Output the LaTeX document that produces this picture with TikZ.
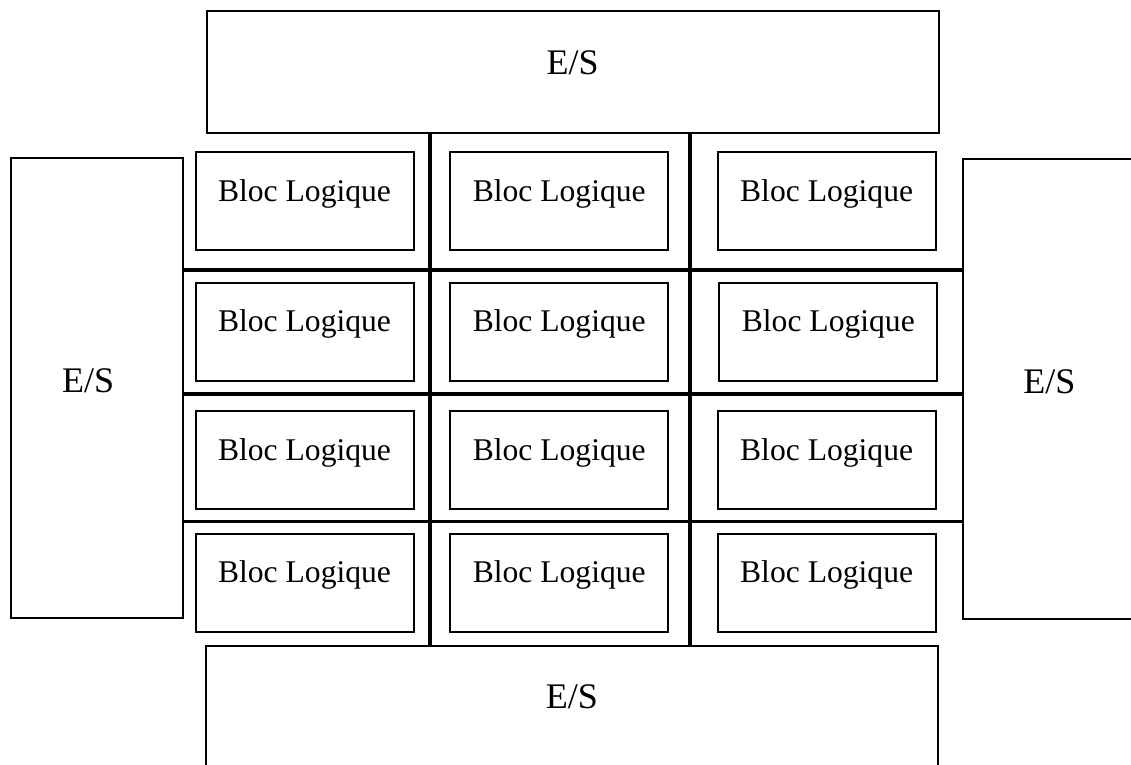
\documentclass[tikz,border=0pt]{standalone}
\usepackage{fontspec}
\setmainfont{Liberation Serif}
\begin{document}
\begin{tikzpicture}[x=1pt,y=-1pt,
  frame/.style={draw, line width=2pt, inner sep=0pt, outer sep=0pt,
                text height=0pt, text depth=0pt},
  esbox/.style={frame, font=\fontsize{36}{40}\selectfont},
  blocbox/.style={frame, minimum width=218pt, minimum height=98pt,
                  font=\fontsize{31.6}{36}\selectfont},
  bus/.style={line width=3.2pt}]
\useasboundingbox (0,0) rectangle (1131,764);

% I/O banks around the array
\node[esbox, minimum width=731.8pt, minimum height=122.3pt, text height=4pt]
  (esT) at (572.6,72.2) {E/S};
\node[esbox, minimum width=731.5pt, minimum height=122.3pt, text height=4pt]
  (esB) at (571.8,706.9) {E/S};
\node[esbox, minimum width=172.3pt, minimum height=460.6pt, text height=8pt]
  (esL) at (97.2,388) {E/S\hspace*{18pt}};
\node[esbox, minimum width=172pt, minimum height=460.3pt, text height=8pt]
  (esR) at (1049.3,389.2) {E/S};

% routing channels between the logic blocks
\coordinate (v1) at (430,0);
\coordinate (v2) at (690,0);
\coordinate (h1) at (0,270);
\coordinate (h2) at (0,394);
\coordinate (h3) at (0,521.5);
\draw[bus] (v1 |- esT.south) -- (v1 |- esB.north);
\draw[bus] (v2 |- esT.south) -- (v2 |- esB.north);
\draw[bus] (h1 -| esL.east) -- (h1 -| esR.west);
\draw[bus] (h2 -| esL.east) -- (h2 -| esR.west);
\draw[bus] (h3 -| esL.east) -- (h3 -| esR.west);

% logic blocks
\node[blocbox] (b11) at (304.5,201.3) {Bloc Logique};
\node[blocbox] (b12) at (559.2,201.3) {Bloc Logique};
\node[blocbox] (b13) at (826.6,201.3) {Bloc Logique};
\node[blocbox] (b21) at (304.5,331.8) {Bloc Logique};
\node[blocbox] (b22) at (559.2,331.8) {Bloc Logique};
\node[blocbox] (b23) at (828.3,331.8) {Bloc Logique};
\node[blocbox] (b31) at (304.5,460.4) {Bloc Logique};
\node[blocbox] (b32) at (559.2,460.4) {Bloc Logique};
\node[blocbox] (b33) at (826.6,460.4) {Bloc Logique};
\node[blocbox] (b41) at (304.5,582.5) {Bloc Logique};
\node[blocbox] (b42) at (559.2,582.5) {Bloc Logique};
\node[blocbox] (b43) at (826.6,582.5) {Bloc Logique};
\end{tikzpicture}
\end{document}
